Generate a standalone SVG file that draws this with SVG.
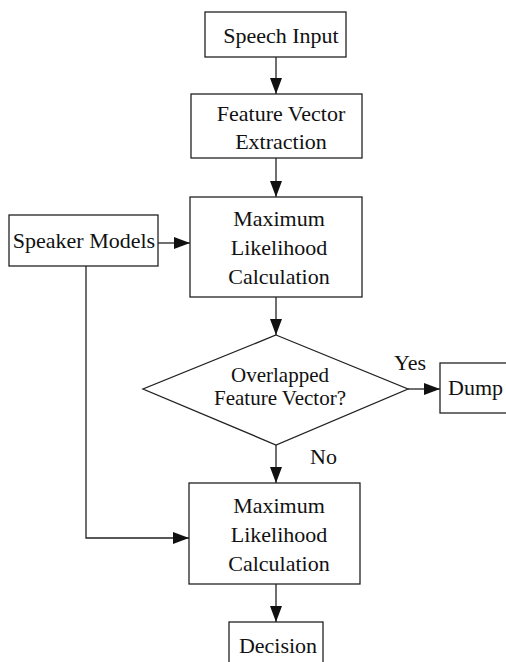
<svg xmlns="http://www.w3.org/2000/svg" width="506" height="662" viewBox="0 0 506 662" font-family="'Liberation Serif', 'Times New Roman', serif">
<style>
.b{fill:#fff;stroke:#222;stroke-width:1.3}
.c{fill:none;stroke:#222;stroke-width:1.3}
text{font-family:"Liberation Serif","Times New Roman",serif;font-size:22px;fill:#111}
.m{text-anchor:middle}
.d{font-size:21px}
</style>
<defs>
<marker id="a" viewBox="0 0 16 12" refX="16" refY="6" markerWidth="16" markerHeight="12" markerUnits="userSpaceOnUse" orient="auto">
<path d="M0,0 L16,6 L0,12 z" fill="#111"/>
</marker>
</defs>
<rect width="506" height="662" fill="#fff"/>
<g id="connectors">
<line class="c" x1="276" y1="57" x2="276" y2="94" marker-end="url(#a)"/>
<line class="c" x1="276" y1="158" x2="276" y2="197" marker-end="url(#a)"/>
<line class="c" x1="158" y1="243" x2="190" y2="243" marker-end="url(#a)"/>
<line class="c" x1="276" y1="297" x2="276" y2="335" marker-end="url(#a)"/>
<line class="c" x1="408" y1="389" x2="440" y2="389" marker-end="url(#a)"/>
<line class="c" x1="276" y1="445" x2="276" y2="483" marker-end="url(#a)"/>
<polyline class="c" points="86,266 86,538 189,538" marker-end="url(#a)"/>
<line class="c" x1="276" y1="584" x2="276" y2="622" marker-end="url(#a)"/>
<text x="394" y="370">Yes</text>
<text x="310" y="464">No</text>
</g>
<g id="speech-input">
<rect class="b" x="205" y="12" width="141" height="45"/>
<text class="m" x="281" y="43">Speech Input</text>
</g>
<g id="feature-extraction">
<rect class="b" x="191" y="94" width="171" height="64"/>
<text class="m" x="281" y="121">Feature Vector</text>
<text class="m" x="281" y="149">Extraction</text>
</g>
<g id="speaker-models">
<rect class="b" x="9" y="215" width="149" height="51"/>
<text class="m" x="84" y="248">Speaker Models</text>
</g>
<g id="ml-calc-1">
<rect class="b" x="190" y="197" width="172" height="100"/>
<text class="m" x="279" y="226">Maximum</text>
<text class="m" x="279" y="255">Likelihood</text>
<text class="m" x="279" y="284">Calculation</text>
</g>
<g id="overlap-decision">
<polygon class="b" points="276,335 408,389 276,445 143,389"/>
<text class="m d" x="280" y="382">Overlapped</text>
<text class="m d" x="280" y="405">Feature Vector?</text>
</g>
<g id="dump">
<rect class="b" x="440" y="363" width="70" height="50"/>
<text x="448" y="395">Dump</text>
</g>
<g id="ml-calc-2">
<rect class="b" x="189" y="483" width="171" height="101"/>
<text class="m" x="279" y="513">Maximum</text>
<text class="m" x="279" y="542">Likelihood</text>
<text class="m" x="279" y="571">Calculation</text>
</g>
<g id="decision">
<rect class="b" x="229" y="622" width="94" height="45"/>
<text class="m" x="278" y="653">Decision</text>
</g>
</svg>
